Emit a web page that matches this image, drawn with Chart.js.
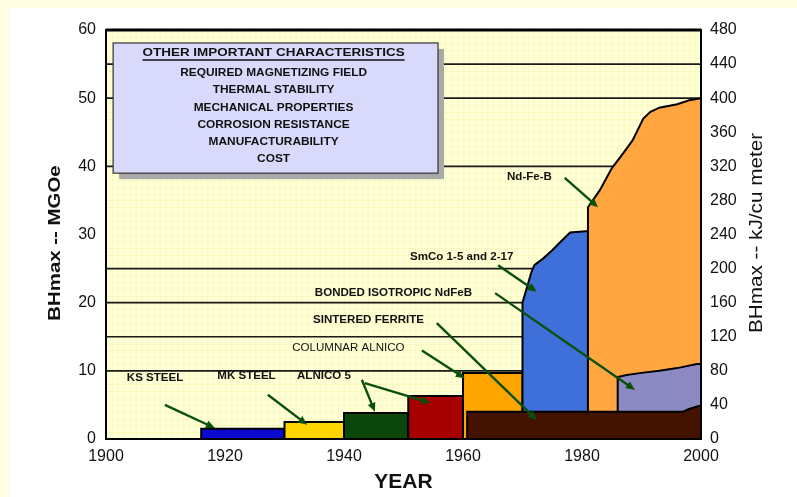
<!DOCTYPE html>
<html>
<head>
<meta charset="utf-8">
<script src="https://cdn.jsdelivr.net/npm/chart.js@4.4.1/dist/chart.umd.min.js"></script>
<style>
  html, body { margin: 0; padding: 0; background: #fff; }
  #wrap { position: relative; width: 797px; height: 497px; }
</style>
</head>
<body>
<div id="wrap"><canvas id="magnetchart"></canvas></div>
<script>
// BHmax of permanent magnet materials through the century (MGOe)
const ksSteelYears   = [1916, 1916, 1930, 1930];
const ksSteelBH      = [0, 1.5, 1.5, 0];
const mkSteelYears   = [1930, 1930, 1940, 1940];
const mkSteelBH      = [0, 2.5, 2.5, 0];
const alnicoYears    = [1940, 1940, 1950.8, 1950.8];
const alnicoBH       = [0, 3.8, 3.8, 0];
const alnicoDgYears  = [1950.8, 1950.8, 1960, 1960];
const alnicoDgBH     = [0, 6.3, 6.3, 0];
const columnarYears  = [1960, 1960, 1970, 1970];
const columnarBH     = [0, 9.7, 9.7, 0];
const ferriteYears   = [1960.7, 1960.7, 1997, 1998, 1999.5, 2000, 2000];
const ferriteBH      = [0, 4.0, 4.0, 4.4, 4.8, 4.9, 0];
const smcoYears      = [1970, 1970, 1970.5, 1971, 1971.5, 1972, 1973.5, 1975, 1976.5, 1978, 1981, 1981];
const smcoBH         = [0, 20, 21.5, 23, 24.5, 25.5, 26.5, 27.7, 29, 30.3, 30.5, 0];
const ndfebYears     = [1981, 1981, 1983, 1985, 1987, 1988.5, 1990.3, 1991.5, 1993, 1996, 1998, 2000, 2000];
const ndfebBH        = [0, 34, 36.5, 39.7, 42, 43.8, 47, 48, 48.6, 49.1, 49.7, 50, 0];
const bondedYears    = [1986, 1986, 1987.5, 1990, 1993, 1996, 1999.3, 2000, 2000];
const bondedBH       = [0, 9.1, 9.4, 9.7, 10.0, 10.4, 11.0, 11.0, 0];

// horizontal reference levels behind the blocks
const guideLevels = [10, 15, 20, 25, 40, 50, 55];

// callout labels and their leader arrows
const calloutText = ['KS STEEL', 'MK STEEL', 'ALNICO 5', 'COLUMNAR ALNICO', 'SINTERED FERRITE',
                     'BONDED ISOTROPIC NdFeB', 'SmCo 1-5 and 2-17', 'Nd-Fe-B'];
const calloutYear = [1903.5, 1918.7, 1932.1, 1931.3, 1934.8, 1935.1, 1951.1, 1967.4];
const calloutBH   = [8.9, 9.2, 9.2, 13.3, 17.4, 21.4, 26.7, 38.4];
const arrowFromYear = [1909.9, 1927.2, 1943.0, 1943.5, 1953.1, 1955.6, 1965.4, 1965.9, 1977.1];
const arrowFromBH   = [5.0, 6.5, 8.7, 8.2, 13.0, 17.0, 21.4, 25.5, 38.3];
const arrowToYear   = [1918.3, 1933.8, 1945.2, 1954.5, 1960.3, 1972.4, 1988.9, 1972.4, 1982.7];
const arrowToBH     = [1.6, 2.1, 4.0, 5.3, 8.9, 2.8, 7.2, 21.6, 34.0];

const boxHeading = 'OTHER IMPORTANT CHARACTERISTICS';
const boxItems = ['REQUIRED MAGNETIZING FIELD', 'THERMAL STABILITY', 'MECHANICAL PROPERTIES',
                  'CORROSION RESISTANCE', 'MANUFACTURABILITY', 'COST'];
const boxYears = [1901.2, 1955.8];
const boxBH = [58.1, 39.0];

const FONT = "'Liberation Sans', Arial, sans-serif";
Chart.defaults.font.family = FONT;

function points(xs, ys) {
  return xs.map((x, i) => ({x: x, y: ys[i]}));
}

function block(label, xs, ys, color) {
  return {
    label: label,
    data: points(xs, ys),
    backgroundColor: color,
    borderColor: '#000',
    borderWidth: 2,
    fill: 'origin',
    pointRadius: 0,
    tension: 0
  };
}

function stretchText(ctx, text, x, y, sx) {
  ctx.save();
  ctx.translate(x, y);
  ctx.scale(sx, 1);
  ctx.fillText(text, 0, 0);
  ctx.restore();
}

const backdrop = {
  id: 'backdrop',
  beforeDraw(chart) {
    const {ctx, chartArea: a, scales: {x, y}} = chart;
    ctx.save();
    ctx.fillStyle = '#fffde3';
    ctx.fillRect(0, 0, chart.width, chart.height);
    ctx.fillStyle = '#fff';
    ctx.fillRect(9, 8, chart.width - 9, chart.height - 8);
    ctx.fillStyle = '#ffffd6';
    ctx.fillRect(a.left, a.top, a.right - a.left, a.bottom - a.top);
    ctx.strokeStyle = 'rgba(236, 226, 140, 0.25)';
    ctx.lineWidth = 1;
    ctx.beginPath();
    for (let yr = 1901; yr < 2000; yr++) {
      const px = Math.round(x.getPixelForValue(yr)) + 0.5;
      ctx.moveTo(px, a.top);
      ctx.lineTo(px, a.bottom);
    }
    for (let v = 1; v < 60; v++) {
      const py = Math.round(y.getPixelForValue(v)) + 0.5;
      ctx.moveTo(a.left, py);
      ctx.lineTo(a.right, py);
    }
    ctx.stroke();
    ctx.restore();
  },
  beforeDatasetsDraw(chart) {
    const {ctx, chartArea: a, scales: {y}} = chart;
    ctx.save();
    ctx.strokeStyle = '#1a1a1a';
    ctx.lineWidth = 1.6;
    guideLevels.forEach(v => {
      const py = y.getPixelForValue(v);
      ctx.beginPath();
      ctx.moveTo(a.left, py);
      ctx.lineTo(a.right, py);
      ctx.stroke();
    });
    ctx.restore();
  },
  afterDatasetsDraw(chart) {
    const {ctx, chartArea: a, scales: {x, y}} = chart;
    ctx.save();

    // frame
    ctx.strokeStyle = '#000';
    ctx.lineWidth = 2;
    ctx.strokeRect(a.left, a.top, a.right - a.left, a.bottom - a.top);
    ctx.lineWidth = 3;
    ctx.beginPath();
    ctx.moveTo(a.left, a.top);
    ctx.lineTo(a.right, a.top);
    ctx.stroke();

    // characteristics box with shadow
    const bx = x.getPixelForValue(boxYears[0]), bx2 = x.getPixelForValue(boxYears[1]);
    const by = y.getPixelForValue(boxBH[0]), by2 = y.getPixelForValue(boxBH[1]);
    ctx.fillStyle = '#a9a9a9';
    ctx.fillRect(bx + 6, by + 6, bx2 - bx, by2 - by);
    ctx.fillStyle = '#d9d9fb';
    ctx.fillRect(bx, by, bx2 - bx, by2 - by);
    ctx.strokeStyle = '#333';
    ctx.lineWidth = 1.2;
    ctx.strokeRect(bx, by, bx2 - bx, by2 - by);
    const cx = (bx + bx2) / 2 - 2;
    ctx.fillStyle = '#111';
    ctx.textAlign = 'center';
    ctx.textBaseline = 'middle';
    ctx.font = 'bold 11.5px ' + FONT;
    stretchText(ctx, boxHeading, cx, by + 10, 1.17);
    const hw = ctx.measureText(boxHeading).width * 1.17;
    ctx.lineWidth = 1.5;
    ctx.strokeStyle = '#111';
    ctx.beginPath();
    ctx.moveTo(cx - hw / 2, by + 17);
    ctx.lineTo(cx + hw / 2, by + 17);
    ctx.stroke();
    ctx.font = 'bold 11px ' + FONT;
    boxItems.forEach((t, i) => stretchText(ctx, t, cx, by + 30 + i * 17.3, 1.08));

    // leader arrows
    ctx.strokeStyle = '#0a500a';
    ctx.fillStyle = '#0a500a';
    ctx.lineWidth = 2.4;
    arrowFromYear.forEach((yr, i) => {
      const x0 = x.getPixelForValue(yr), y0 = y.getPixelForValue(arrowFromBH[i]);
      const x1 = x.getPixelForValue(arrowToYear[i]), y1 = y.getPixelForValue(arrowToBH[i]);
      const ang = Math.atan2(y1 - y0, x1 - x0);
      ctx.beginPath();
      ctx.moveTo(x0, y0);
      ctx.lineTo(x1 - 5 * Math.cos(ang), y1 - 5 * Math.sin(ang));
      ctx.stroke();
      ctx.beginPath();
      ctx.moveTo(x1, y1);
      ctx.lineTo(x1 - 9 * Math.cos(ang) + 4 * Math.sin(ang), y1 - 9 * Math.sin(ang) - 4 * Math.cos(ang));
      ctx.lineTo(x1 - 9 * Math.cos(ang) - 4 * Math.sin(ang), y1 - 9 * Math.sin(ang) + 4 * Math.cos(ang));
      ctx.closePath();
      ctx.fill();
    });

    // callout labels
    ctx.fillStyle = '#111';
    ctx.textAlign = 'left';
    ctx.textBaseline = 'middle';
    calloutText.forEach((t, i) => {
      ctx.font = (t === 'COLUMNAR ALNICO' ? '' : 'bold ') + '11px ' + FONT;
      stretchText(ctx, t, x.getPixelForValue(calloutYear[i]), y.getPixelForValue(calloutBH[i]), 1.05);
    });
    ctx.restore();
  },
  afterDraw(chart) {
    const {ctx, chartArea: a} = chart;
    ctx.save();
    ctx.fillStyle = '#111';
    ctx.textAlign = 'center';
    ctx.textBaseline = 'middle';
    ctx.font = 'bold 21px ' + FONT;
    ctx.fillText('YEAR', (a.left + a.right) / 2, 482);

    ctx.font = 'bold 17px ' + FONT;
    ctx.save();
    ctx.translate(55, 243);
    ctx.rotate(-Math.PI / 2);
    ctx.scale(1.2, 1);
    ctx.fillText('BHmax -- MGOe', 0, 0);
    ctx.restore();

    ctx.font = '18px ' + FONT;
    ctx.save();
    ctx.translate(757, 233);
    ctx.rotate(-Math.PI / 2);
    ctx.scale(1.15, 1);
    ctx.fillText('BHmax -- kJ/cu meter', 0, 0);
    ctx.restore();
    ctx.restore();
  }
};

new Chart(document.getElementById('magnetchart'), {
  type: 'line',
  data: {
    datasets: [
      block('Sintered ferrite', ferriteYears, ferriteBH, '#431300'),
      block('Bonded isotropic NdFeB', bondedYears, bondedBH, '#8d89c2'),
      block('Nd-Fe-B', ndfebYears, ndfebBH, '#ffa640'),
      block('SmCo 1-5 and 2-17', smcoYears, smcoBH, '#3f6fd8'),
      block('Columnar Alnico', columnarYears, columnarBH, '#ffa500'),
      block('Alnico', alnicoDgYears, alnicoDgBH, '#a60000'),
      block('Alnico 5', alnicoYears, alnicoBH, '#0b470b'),
      block('MK steel', mkSteelYears, mkSteelBH, '#ffd500'),
      block('KS steel', ksSteelYears, ksSteelBH, '#0a0ad0')
    ]
  },
  options: {
    responsive: true,
    maintainAspectRatio: false,
    animation: false,
    layout: {padding: {top: 30, left: 0, right: 0, bottom: 0}},
    plugins: {legend: {display: false}, tooltip: {enabled: false}},
    scales: {
      x: {
        type: 'linear',
        min: 1900,
        max: 2000,
        grid: {display: false, drawTicks: false},
        border: {display: false},
        ticks: {stepSize: 20, padding: 8, color: '#111', font: {size: 16},
                callback: v => String(v)},
        afterFit: s => { s.height = 58; }
      },
      y: {
        min: 0,
        max: 60,
        grid: {display: false, drawTicks: false},
        border: {display: false},
        ticks: {stepSize: 10, padding: 10, color: '#111', font: {size: 16}},
        afterFit: s => { s.width = 106; }
      },
      y2: {
        position: 'right',
        min: 0,
        max: 480,
        grid: {display: false, drawTicks: false},
        border: {display: false},
        ticks: {stepSize: 40, padding: 9, color: '#111', font: {size: 16}},
        afterFit: s => { s.width = 96; }
      }
    }
  },
  plugins: [backdrop]
});
</script>
</body>
</html>
